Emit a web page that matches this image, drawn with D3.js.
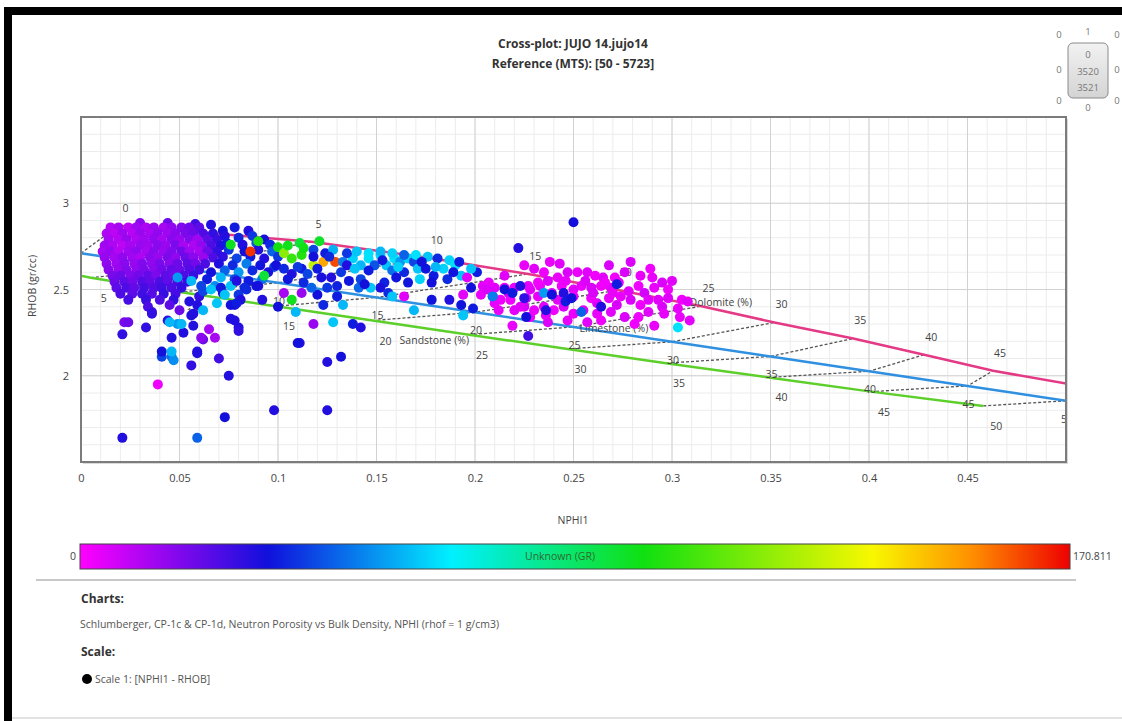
<!DOCTYPE html>
<html>
<head>
<meta charset="utf-8">
<script src="https://cdn.jsdelivr.net/npm/d3@7"></script>
<style>
  body { margin: 0; background: #fff; }
  text { font-family: "Open Sans", sans-serif; }
</style>
</head>
<body>
<svg id="chart" width="1122" height="721"></svg>
<script>
// ---- chart data ----
const porosity = [0, 5, 10, 15, 20, 25, 30, 35, 40, 45, 50];
const sandNphi = [-0.030, 0.005, 0.050, 0.099, 0.148, 0.197, 0.247, 0.297, 0.349, 0.401, 0.458];
const sandRhob = [2.650, 2.568, 2.485, 2.403, 2.320, 2.238, 2.155, 2.073, 1.990, 1.908, 1.825];
const limeNphi = [0, 0.05, 0.10, 0.15, 0.20, 0.25, 0.30, 0.35, 0.40, 0.45, 0.50];
const limeRhob = [2.710, 2.625, 2.539, 2.454, 2.368, 2.283, 2.197, 2.112, 2.026, 1.941, 1.855];
const dolNphi = [0.019, 0.117, 0.177, 0.227, 0.273, 0.315, 0.352, 0.392, 0.428, 0.463, 0.510];
const dolRhob = [2.870, 2.777, 2.683, 2.590, 2.496, 2.403, 2.309, 2.216, 2.122, 2.029, 1.935];

const xTicks = [0, 0.05, 0.1, 0.15, 0.2, 0.25, 0.3, 0.35, 0.4, 0.45];
const yTicks = [2, 2.5, 3];
const grMin = 0, grMax = 170.811;
const barStops = [0, 0.19, 0.375, 0.57, 0.8, 0.9, 1];
const barColors = ["#ff00ff", "#1010dc", "#00f0ff", "#10e010", "#f8f800", "#ff9000", "#ee0000"];

// points: [NPHI1, RHOB, GR]
const purpleCore = [
  [0.030,2.885,16],[0.044,2.885,20],[0.058,2.88,26],[0.066,2.875,30],
  [0.015,2.86,10],[0.019,2.86,12],[0.024,2.86,9],[0.028,2.86,13],[0.033,2.86,11],[0.037,2.86,14],[0.042,2.86,12],[0.046,2.86,15],[0.051,2.86,17],[0.055,2.86,19],[0.060,2.86,22],
  [0.013,2.825,11],[0.017,2.825,9],[0.021,2.825,13],[0.026,2.825,10],[0.030,2.825,14],[0.035,2.825,12],[0.039,2.825,15],[0.044,2.825,13],[0.048,2.825,16],[0.053,2.825,18],[0.057,2.825,20],[0.062,2.825,24],[0.067,2.825,28],
  [0.014,2.79,12],[0.019,2.79,10],[0.023,2.79,14],[0.028,2.79,11],[0.032,2.79,13],[0.037,2.79,15],[0.041,2.79,12],[0.046,2.79,16],[0.050,2.79,14],[0.055,2.79,17],[0.059,2.79,13],[0.064,2.79,22],[0.069,2.79,27],
  [0.012,2.755,13],[0.016,2.755,11],[0.021,2.755,9],[0.025,2.755,12],[0.030,2.755,14],[0.034,2.755,13],[0.039,2.755,16],[0.043,2.755,14],[0.048,2.755,18],[0.052,2.755,12],[0.057,2.755,11],[0.061,2.755,15],[0.066,2.755,24],[0.071,2.755,30],
  [0.011,2.72,12],[0.015,2.72,14],[0.019,2.72,10],[0.024,2.72,13],[0.028,2.72,15],[0.033,2.72,12],[0.037,2.72,16],[0.042,2.72,14],[0.046,2.72,17],[0.051,2.72,19],[0.055,2.72,13],[0.060,2.72,12],[0.064,2.72,20],[0.069,2.72,28],
  [0.012,2.685,14],[0.017,2.685,12],[0.021,2.685,15],[0.026,2.685,13],[0.030,2.685,11],[0.035,2.685,16],[0.039,2.685,14],[0.044,2.685,18],[0.048,2.685,15],[0.053,2.685,20],[0.057,2.685,16],[0.062,2.685,14],[0.067,2.685,24],
  [0.013,2.65,15],[0.018,2.65,13],[0.022,2.65,16],[0.027,2.65,14],[0.031,2.65,17],[0.036,2.65,15],[0.040,2.65,18],[0.045,2.65,16],[0.049,2.65,20],[0.054,2.65,22],[0.058,2.65,19],[0.063,2.65,24],
  [0.014,2.615,16],[0.019,2.615,14],[0.023,2.615,17],[0.028,2.615,15],[0.032,2.615,18],[0.037,2.615,16],[0.041,2.615,19],[0.046,2.615,21],[0.050,2.615,20],[0.055,2.615,23],[0.060,2.615,26],
  [0.016,2.58,18],[0.020,2.58,20],[0.025,2.58,17],[0.029,2.58,19],[0.034,2.58,21],[0.038,2.58,18],[0.043,2.58,22],[0.047,2.58,20],[0.052,2.58,24],[0.057,2.58,27]
];
const lowerViolet = [
  [0.017,2.545,20],[0.022,2.545,22],[0.026,2.545,19],[0.031,2.545,23],[0.035,2.545,21],[0.040,2.545,24],[0.044,2.545,22],[0.049,2.545,25],[0.054,2.545,27],
  [0.018,2.51,22],[0.023,2.51,24],[0.027,2.51,21],[0.032,2.51,25],[0.037,2.51,23],[0.041,2.51,26],[0.046,2.51,24],[0.051,2.51,28],
  [0.020,2.475,24],[0.026,2.475,22],[0.031,2.475,26],[0.036,2.475,23],[0.042,2.475,27],[0.048,2.475,25],
  [0.024,2.44,25],[0.033,2.44,27],[0.040,2.44,24],[0.047,2.44,28],
  [0.034,2.40,24],[0.036,2.37,26],[0.045,2.41,22],[0.050,2.38,20],[0.055,2.43,30],[0.060,2.46,28]
];
const blueTransition = [
  [0.072,2.84,32],[0.078,2.86,34],[0.085,2.84,30],[0.073,2.81,30],[0.080,2.80,36],[0.087,2.81,38],[0.093,2.79,32],
  [0.074,2.77,34],[0.082,2.76,30],[0.089,2.77,42],[0.096,2.76,36],[0.075,2.73,38],[0.083,2.72,32],[0.090,2.73,30],[0.097,2.72,44],
  [0.072,2.69,28],[0.079,2.68,40],[0.086,2.69,34],[0.093,2.68,30],[0.100,2.69,38],[0.070,2.65,30],[0.077,2.64,36],[0.084,2.65,48],
  [0.091,2.64,33],[0.098,2.63,40],[0.066,2.60,32],[0.073,2.61,44],[0.080,2.60,52],[0.087,2.61,36],[0.095,2.60,31],
  [0.064,2.56,34],[0.071,2.57,56],[0.078,2.56,40],[0.085,2.55,34],[0.092,2.56,46],[0.068,2.52,50],[0.076,2.52,58],[0.083,2.51,36],
  [0.090,2.52,30],[0.062,2.49,40],[0.072,2.48,32],[0.080,2.47,38],
  [0.049,2.57,52],[0.056,2.55,56],[0.061,2.52,40],[0.066,2.50,58],[0.071,2.51,34],[0.079,2.55,30],[0.084,2.50,36],[0.089,2.52,32],
  [0.092,2.44,30],[0.081,2.44,30],[0.073,2.47,58],
  [0.076,2.76,95],[0.090,2.78,100],[0.093,2.58,92],[0.086,2.72,165]
];
const midBand = [
  [0.100,2.745,98],[0.103,2.71,118],[0.105,2.755,96],[0.107,2.68,104],[0.111,2.77,92],[0.112,2.70,100],[0.113,2.74,97],
  [0.118,2.64,128],[0.123,2.66,150],[0.129,2.66,162],[0.107,2.44,96],[0.121,2.78,94],
  [0.099,2.64,32],[0.103,2.62,36],[0.107,2.59,30],[0.112,2.62,34],[0.115,2.59,40],[0.122,2.57,31],[0.127,2.57,30],[0.132,2.60,38],
  [0.133,2.66,48],[0.138,2.68,60],[0.142,2.64,56],[0.146,2.68,62],[0.149,2.64,42],[0.152,2.70,60],[0.155,2.64,58],[0.159,2.68,62],
  [0.162,2.66,52],[0.166,2.68,60],[0.169,2.66,40],[0.171,2.62,58],[0.184,2.62,60],[0.179,2.58,34],[0.178,2.54,32],[0.166,2.54,33],
  [0.154,2.54,35],[0.152,2.51,31],[0.156,2.48,36],[0.147,2.51,58],[0.141,2.51,45],[0.136,2.55,33],[0.130,2.52,35],[0.125,2.51,38],
  [0.120,2.47,32],[0.130,2.46,34],[0.133,2.41,56],[0.123,2.41,36],[0.112,2.48,14],[0.103,2.48,12],[0.100,2.40,32],
  [0.164,2.46,4],[0.178,2.44,33],[0.187,2.44,30],[0.169,2.38,56],[0.158,2.46,58],[0.193,2.58,58],[0.196,2.57,4],[0.201,2.60,34],
  [0.198,2.51,32],[0.194,2.47,4],[0.193,2.41,33],[0.194,2.35,58],[0.199,2.39,34],[0.204,2.52,4],[0.208,2.51,6],[0.209,2.46,34],[0.203,2.47,3],
  [0.118,2.73,40],[0.124,2.71,34],[0.128,2.73,55],[0.135,2.71,38],[0.140,2.72,58],[0.146,2.71,62],[0.152,2.72,56],[0.158,2.71,60],
  [0.164,2.70,44],[0.170,2.70,62],[0.176,2.69,58],[0.181,2.68,36],[0.187,2.67,60],[0.118,2.69,32],[0.126,2.69,36],[0.135,2.64,30],
  [0.146,2.61,34],[0.158,2.61,46],[0.164,2.60,36],[0.175,2.62,33],[0.190,2.64,62],[0.186,2.56,36],[0.120,2.62,34],[0.110,2.63,38],
  [0.105,2.56,33],[0.113,2.54,36],[0.142,2.56,40],[0.192,2.66,34],[0.198,2.62,58],[0.172,2.56,60],[0.160,2.57,33],
  [0.139,2.62,58],[0.153,2.67,34],[0.161,2.63,60],[0.173,2.66,32],[0.180,2.63,56],[0.144,2.53,32],[0.117,2.51,44],[0.189,2.60,33]
];
const magentaCluster = [
  [0.225,2.64,3],[0.243,2.65,4],[0.235,2.60,2],[0.247,2.60,5],[0.252,2.60,3],[0.257,2.60,4],[0.261,2.58,2],[0.279,2.66,5],
  [0.290,2.57,3],[0.273,2.54,4],[0.283,2.52,2],[0.286,2.48,6],[0.291,2.51,3],[0.298,2.45,4],[0.305,2.44,2],[0.295,2.40,5],
  [0.303,2.39,3],[0.309,2.32,4],[0.291,2.29,3],[0.276,2.34,5],[0.283,2.34,2],[0.269,2.37,4],[0.268,2.45,3],[0.262,2.42,5],
  [0.259,2.45,2],[0.255,2.38,4],[0.250,2.36,3],[0.245,2.40,5],[0.240,2.38,2],[0.235,2.40,4],[0.230,2.38,3],[0.225,2.40,5],
  [0.220,2.38,4],[0.219,2.29,3],[0.228,2.34,2],[0.237,2.31,5],[0.247,2.32,3],[0.257,2.31,4],[0.264,2.32,2],[0.228,2.50,4],
  [0.233,2.52,3],[0.239,2.48,5],[0.244,2.52,2],[0.250,2.50,4],[0.254,2.52,3],[0.259,2.51,5],[0.264,2.52,2],[0.269,2.51,4],
  [0.274,2.46,3],[0.279,2.44,5],[0.284,2.41,2],[0.288,2.44,4],[0.284,2.58,3],[0.276,2.60,5],[0.271,2.57,2],[0.265,2.57,4],
  [0.242,2.57,3],[0.237,2.55,5],[0.232,2.54,2],[0.227,2.52,4],[0.220,2.51,3],[0.217,2.48,5],[0.213,2.44,2],[0.210,2.51,4],
  [0.207,2.54,3],[0.206,2.50,5],[0.215,2.51,2],[0.223,2.40,4],[0.212,2.38,3],[0.295,2.54,5],[0.298,2.50,2],[0.308,2.43,4],
  [0.304,2.34,3],[0.293,2.44,4],[0.246,2.55,3],[0.256,2.55,5],[0.266,2.54,2],[0.278,2.49,4],[0.270,2.48,3],[0.260,2.48,5],
  [0.250,2.46,2],[0.242,2.44,4],[0.232,2.46,3],[0.226,2.45,5],[0.218,2.44,2],[0.236,2.35,4],[0.262,2.36,3],[0.272,2.41,5],
  [0.288,2.37,4],[0.296,2.36,3],[0.281,2.30,2],[0.230,2.62,4],[0.238,2.66,3],[0.268,2.64,5],[0.289,2.62,2],[0.300,2.55,4],
  [0.210,2.42,3],[0.215,2.58,4],
  [0.209,2.46,48],[0.215,2.50,32],[0.219,2.48,34],[0.223,2.52,30],[0.225,2.45,28],[0.235,2.48,52],[0.239,2.47,32],[0.245,2.48,30],
  [0.246,2.43,34],[0.249,2.45,32],[0.236,2.38,30],[0.254,2.37,44],[0.226,2.34,32],[0.227,2.23,26],[0.303,2.28,62],[0.222,2.74,30],
  [0.250,2.89,32],[0.264,2.40,30],[0.272,2.53,34]
];
const scatterPts = [
  [0.021,1.64,30],[0.059,1.64,44],[0.039,1.95,2],[0.073,1.76,32],[0.075,2.00,30],[0.098,1.80,30],[0.125,1.80,30],[0.111,2.19,30],
  [0.125,2.08,30],[0.132,2.11,32],[0.056,2.06,28],[0.041,2.11,40],[0.046,2.11,46],[0.047,2.09,50],[0.059,2.13,30],[0.070,2.10,26],
  [0.021,2.24,28],[0.022,2.31,18],[0.024,2.31,20],[0.033,2.28,28],[0.046,2.22,30],[0.052,2.25,30],[0.044,2.32,28],[0.049,2.30,52],
  [0.062,2.21,20],[0.065,2.27,12],[0.068,2.22,12],[0.057,2.36,30],[0.036,2.36,28],[0.076,2.33,30],[0.080,2.28,30],[0.080,2.26,28],
  [0.078,2.41,30],[0.118,2.30,14],[0.128,2.31,58],[0.138,2.30,34],[0.142,2.28,30],[0.109,2.37,56],[0.110,2.19,32],
  [0.045,2.31,56],[0.056,2.35,30],[0.059,2.41,30],[0.062,2.38,56],[0.069,2.42,58],[0.076,2.41,32],[0.079,2.42,34],[0.078,2.32,30],
  [0.051,2.30,56],[0.057,2.29,30],[0.061,2.22,16],[0.041,2.14,32],[0.046,2.14,56],[0.059,2.14,30]
];

// ---- layout ----
const svg = d3.select("#chart");
const x = d3.scaleLinear().domain([0, 0.5]).range([81, 1066]);
const y = d3.scaleLinear().domain([1.5, 3.5]).range([462, 117]);
const grColor = d3.scaleLinear()
  .domain(barStops.map(s => grMin + s * (grMax - grMin)))
  .range(barColors)
  .clamp(true);

// outer frame
svg.append("rect").attr("x", 4).attr("y", 7).attr("width", 8).attr("height", 714).attr("fill", "#000");
svg.append("rect").attr("x", 4).attr("y", 7).attr("width", 1118).attr("height", 8).attr("fill", "#000");
svg.append("line").attr("x1", 12).attr("x2", 1122).attr("y1", 718).attr("y2", 718)
  .attr("stroke", "#d8d8d8").attr("stroke-width", 1.5);

// titles
svg.append("text").attr("x", 573).attr("y", 48).attr("text-anchor", "middle")
  .attr("font-size", 12).attr("font-weight", "bold").attr("fill", "#333")
  .text("Cross-plot: JUJO  14.jujo14");
svg.append("text").attr("x", 573).attr("y", 68).attr("text-anchor", "middle")
  .attr("font-size", 12).attr("font-weight", "bold").attr("fill", "#333")
  .text("Reference (MTS): [50 - 5723]");

// little navigation widget, top right
const nav = svg.append("g").attr("font-size", 9.5).attr("fill", "#777").attr("text-anchor", "middle");
const navGrad = svg.append("defs").append("linearGradient").attr("id", "navg").attr("x1", 0).attr("x2", 0).attr("y1", 0).attr("y2", 1);
navGrad.append("stop").attr("offset", 0).attr("stop-color", "#f2f2f2");
navGrad.append("stop").attr("offset", 1).attr("stop-color", "#d4d4d4");
nav.append("rect").attr("x", 1068).attr("y", 43).attr("width", 40).attr("height", 55).attr("rx", 5)
  .attr("fill", "url(#navg)").attr("stroke", "#8a8a8a");
[["0", 1059, 38], ["1", 1088, 35], ["0", 1117, 38], ["0", 1059, 73], ["0", 1117, 73],
 ["0", 1059, 104], ["0", 1088, 111], ["0", 1117, 104],
 ["0", 1088, 58], ["3520", 1088, 75], ["3521", 1088, 91]].forEach(d => {
  nav.append("text").attr("x", d[1]).attr("y", d[2]).text(d[0]);
});

// plot area
const defs = svg.append("defs");
defs.append("clipPath").attr("id", "plotclip").append("rect")
  .attr("x", 81).attr("y", 117).attr("width", 985).attr("height", 345);

svg.append("rect").attr("x", 83).attr("y", 119).attr("width", 985).attr("height", 345).attr("fill", "#d9d9d9");
svg.append("rect").attr("x", 81).attr("y", 117).attr("width", 985).attr("height", 345).attr("fill", "#fff");

const grid = svg.append("g").attr("clip-path", "url(#plotclip)");
grid.selectAll("line.vminor").data(x.ticks(50)).enter().append("line")
  .attr("x1", d => x(d)).attr("x2", d => x(d)).attr("y1", 117).attr("y2", 462)
  .attr("stroke", "#ececec").attr("stroke-width", 1);
grid.selectAll("line.hminor").data(y.ticks(20)).enter().append("line")
  .attr("y1", d => y(d)).attr("y2", d => y(d)).attr("x1", 81).attr("x2", 1066)
  .attr("stroke", "#ececec").attr("stroke-width", 1);
grid.selectAll("line.vmajor").data(x.ticks(10)).enter().append("line")
  .attr("x1", d => x(d)).attr("x2", d => x(d)).attr("y1", 117).attr("y2", 462)
  .attr("stroke", "#d2d2d2").attr("stroke-width", 1);
grid.selectAll("line.hmajor").data(y.ticks(4)).enter().append("line")
  .attr("y1", d => y(d)).attr("y2", d => y(d)).attr("x1", 81).attr("x2", 1066)
  .attr("stroke", "#d2d2d2").attr("stroke-width", 1);

// lithology curves
const sand = porosity.map((p, i) => ({ p, nphi: sandNphi[i], rhob: sandRhob[i] }));
const lime = porosity.map((p, i) => ({ p, nphi: limeNphi[i], rhob: limeRhob[i] }));
const dolo = porosity.map((p, i) => ({ p, nphi: dolNphi[i], rhob: dolRhob[i] }));
const line = d3.line().x(d => x(d.nphi)).y(d => y(d.rhob));

const chart = svg.append("g").attr("clip-path", "url(#plotclip)");
const iso = porosity.map((p, i) => [sand[i], lime[i], dolo[i]]);
chart.selectAll("path.iso").data(iso).enter().append("path")
  .attr("d", line).attr("fill", "none").attr("stroke", "#555")
  .attr("stroke-width", 1.3).attr("stroke-dasharray", "3,2");

[[dolo, "#e43a86"], [lime, "#2f8fe0"], [sand, "#5ccf2a"]].forEach(c => {
  chart.append("path").datum(c[0]).attr("d", line).attr("fill", "none")
    .attr("stroke", c[1]).attr("stroke-width", 2.5);
});

// porosity labels
const lab = chart.append("g").attr("font-size", 10.5).attr("fill", "#444")
  .attr("text-anchor", "middle").attr("dominant-baseline", "central");
lab.selectAll("text.dol").data(dolo).enter().append("text")
  .attr("x", d => x(d.nphi) + 7).attr("y", d => y(d.rhob) - 18).text(d => d.p);
lab.selectAll("text.lime").data(lime.slice(1)).enter().append("text")
  .attr("x", d => x(d.nphi) + 1).attr("y", d => y(d.rhob) + 18).text(d => d.p);
lab.selectAll("text.sand").data(sand.slice(1)).enter().append("text")
  .attr("x", d => x(d.nphi) + 13).attr("y", d => y(d.rhob) + 20).text(d => d.p);

const names = [
  [dolo[5], "Dolomite (%)", -12, -4, "start"],
  [lime[5], "Limestone (%)", 6, 1, "start"],
  [sand[5], "Sandstone (%)", 0, 5, "end"]
];
names.forEach(n => {
  lab.append("text").attr("x", x(n[0].nphi) + n[2]).attr("y", y(n[0].rhob) + n[3])
    .attr("text-anchor", n[4]).text(n[1]);
});

// points
const allPts = [].concat(purpleCore, lowerViolet, blueTransition, midBand, magentaCluster, scatterPts);
chart.selectAll("circle.pt").data(allPts).enter().append("circle")
  .attr("cx", d => x(d[0])).attr("cy", d => y(d[1])).attr("r", 5)
  .attr("fill", d => grColor(d[2]));

// border
svg.append("rect").attr("x", 81).attr("y", 117).attr("width", 985).attr("height", 345)
  .attr("fill", "none").attr("stroke", "#7c7c7c").attr("stroke-width", 2);

// axes
const xAxis = svg.append("g").attr("transform", "translate(0,462)")
  .call(d3.axisBottom(x).tickValues(xTicks).tickFormat(d3.format("~g")).tickSize(0).tickPadding(12));
const yAxis = svg.append("g").attr("transform", "translate(81,0)")
  .call(d3.axisLeft(y).tickValues(yTicks).tickFormat(d3.format("~g")).tickSize(0).tickPadding(12));
[xAxis, yAxis].forEach(a => {
  a.select(".domain").remove();
  a.selectAll("text").attr("font-family", "Open Sans, sans-serif").attr("font-size", 11).attr("fill", "#444");
});

svg.append("text").attr("x", 573).attr("y", 524).attr("text-anchor", "middle")
  .attr("font-size", 10.5).attr("fill", "#444").text("NPHI1");
svg.append("text").attr("transform", "translate(36,286) rotate(-90)").attr("text-anchor", "middle")
  .attr("font-size", 10.5).attr("fill", "#444").text("RHOB (gr/cc)");

// colour bar
const barGrad = defs.append("linearGradient").attr("id", "grbar");
barStops.forEach((s, i) => barGrad.append("stop").attr("offset", s).attr("stop-color", barColors[i]));
svg.append("rect").attr("x", 80).attr("y", 544).attr("width", 990).attr("height", 25)
  .attr("fill", "url(#grbar)").attr("stroke", "#444").attr("stroke-width", 1);
svg.append("text").attr("x", 76).attr("y", 560).attr("text-anchor", "end")
  .attr("font-size", 10.5).attr("fill", "#444").text(grMin);
svg.append("text").attr("x", 1073).attr("y", 560)
  .attr("font-size", 10.5).attr("fill", "#444").text(grMax);
svg.append("text").attr("x", 560).attr("y", 560).attr("text-anchor", "middle")
  .attr("font-size", 10.5).attr("fill", "#2d6b2d").text("Unknown (GR)");

svg.append("line").attr("x1", 36).attr("x2", 1076).attr("y1", 580).attr("y2", 580)
  .attr("stroke", "#c8c8c8").attr("stroke-width", 2);

// notes below
svg.append("text").attr("x", 81).attr("y", 603).attr("font-size", 12).attr("font-weight", "bold")
  .attr("fill", "#333").text("Charts:");
svg.append("text").attr("x", 80).attr("y", 628).attr("font-size", 10.5).attr("fill", "#555")
  .text("Schlumberger, CP-1c & CP-1d, Neutron Porosity vs Bulk Density, NPHI (rhof = 1 g/cm3)");
svg.append("text").attr("x", 81).attr("y", 656).attr("font-size", 12).attr("font-weight", "bold")
  .attr("fill", "#333").text("Scale:");
svg.append("circle").attr("cx", 87).attr("cy", 679).attr("r", 5).attr("fill", "#000");
svg.append("text").attr("x", 95).attr("y", 683).attr("font-size", 10.5).attr("fill", "#555")
  .text("Scale 1:  [NPHI1 - RHOB]");
</script>
</body>
</html>
